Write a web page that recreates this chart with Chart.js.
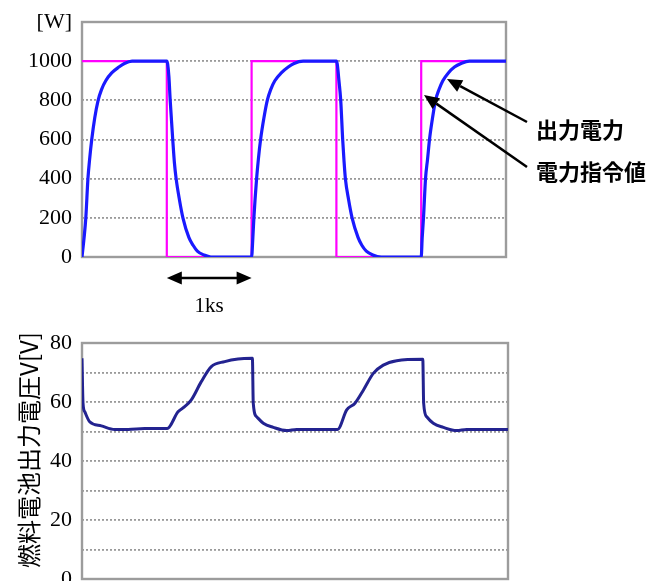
<!DOCTYPE html>
<html>
<head>
<meta charset="utf-8">
<script src="https://cdn.jsdelivr.net/npm/chart.js@4.4.1/dist/chart.umd.min.js"></script>
<style>
  html, body { margin: 0; padding: 0; background: #fff; overflow: hidden; }
  #power { position: absolute; left: 0; top: 0; }
  #volt { position: absolute; left: 0; top: 320px; }
</style>
</head>
<body>
<canvas id="power" width="668" height="320"></canvas>
<canvas id="volt" width="668" height="261"></canvas>
<script>
// time axis in seconds (1ks = 1000 s)

// power command (stepped)
const commandTime = [0, 1000, 2000, 3000, 4000, 5000];
const commandPower = [1000, 0, 1000, 0, 1000, 1000];

// measured output power [W]
const outputTime = [
  0, 25, 45, 70, 90, 115, 150, 190, 230, 280, 350, 435, 500, 590, 1000,
  1010, 1025, 1040, 1070, 1090, 1110, 1150, 1190, 1260, 1310, 1360, 1440, 1520, 2000,
  2015, 2027, 2059, 2080, 2106, 2145, 2185, 2225, 2274, 2350, 2432, 2500, 2608, 3000,
  3010, 3030, 3051, 3074, 3090, 3106, 3145, 3185, 3255, 3300, 3353, 3430, 3529, 4000,
  4012, 4027, 4051, 4075, 4098, 4130, 4169, 4210, 4255, 4320, 4392, 4470, 4569, 5000
];
const outputPower = [
  0, 100, 200, 400, 500, 600, 710, 800, 855, 900, 940, 970, 988, 1000, 1000,
  985, 920, 800, 600, 480, 400, 290, 200, 100, 60, 30, 10, 0, 0,
  100, 200, 400, 500, 600, 710, 800, 855, 900, 940, 970, 988, 1000, 1000,
  985, 900, 800, 600, 490, 400, 290, 200, 100, 60, 30, 10, 0, 0,
  100, 200, 400, 500, 600, 700, 800, 855, 900, 940, 970, 988, 1000, 1000
];

// fuel cell output voltage [V]
const voltTime = [
  0, 12, 32, 90, 227, 384, 540, 736, 1000, 1127, 1205, 1283, 1400, 1518, 1675, 1831, 2000,
  2010, 2050, 2128, 2245, 2403, 2520, 3000, 3107, 3204, 3302, 3419, 3536, 3694, 4000,
  4010, 4046, 4123, 4241, 4398, 4515, 5000
];
const voltValue = [
  74.8, 59.6, 56.7, 53.3, 51.9, 50.7, 50.7, 51, 51, 56.7, 58.4, 60.7, 66.9, 72, 73.7, 74.6, 74.8,
  59.6, 55, 52.8, 51.4, 50.3, 50.7, 50.7, 57.3, 59.6, 64, 69.7, 72.5, 74, 74.5,
  59.6, 55, 52.8, 51.4, 50.3, 50.7, 50.7
];

const powerUnit = '[W]';
const outputLabel = '出力電力';
const commandLabel = '電力指令値';
const spanLabel = '1ks';
const voltTitle = '燃料電池出力電圧V[V]';

function pairs(xs, ys) {
  return xs.map((x, i) => ({ x: x, y: ys[i] }));
}

const tickFont = { family: '"Liberation Serif", "Times New Roman", serif', size: 22 };
const gridColor = '#9a9a9a';

// gray frame round the plot area
const frame = {
  id: 'frame',
  beforeDatasetsDraw(chart) {
    const { ctx, chartArea: a } = chart;
    ctx.save();
    ctx.strokeStyle = '#9c9c9c';
    ctx.lineWidth = 2.4;
    ctx.strokeRect(a.left, a.top, a.right - a.left, a.bottom - a.top);
    ctx.restore();
  }
};

function arrowHead(ctx, fx, fy, tx, ty, len, half) {
  const a = Math.atan2(ty - fy, tx - fx);
  const bx = tx - len * Math.cos(a), by = ty - len * Math.sin(a);
  ctx.beginPath();
  ctx.moveTo(tx, ty);
  ctx.lineTo(bx + half * Math.sin(a), by - half * Math.cos(a));
  ctx.lineTo(bx - half * Math.sin(a), by + half * Math.cos(a));
  ctx.closePath();
  ctx.fill();
  return [bx, by];
}

function arrow(ctx, fx, fy, tx, ty) {
  const [bx, by] = arrowHead(ctx, fx, fy, tx, ty, 15, 6.5);
  ctx.beginPath();
  ctx.moveTo(fx, fy);
  ctx.lineTo(bx, by);
  ctx.stroke();
}

const powerNotes = {
  id: 'powerNotes',
  afterDraw(chart) {
    const { ctx, scales: { x, y } } = chart;
    ctx.save();
    ctx.fillStyle = '#000';
    ctx.strokeStyle = '#000';
    ctx.lineWidth = 2.5;

    // callouts
    arrow(ctx, 527, 122, x.getPixelForValue(4304), y.getPixelForValue(909));
    arrow(ctx, 527, 167, x.getPixelForValue(4033), y.getPixelForValue(827));
    ctx.font = 'bold 22px "Noto Sans CJK JP"';
    ctx.textAlign = 'left';
    ctx.textBaseline = 'middle';
    ctx.fillText(outputLabel, 536, 130);
    ctx.fillText(commandLabel, 536, 172);

    // 1ks span
    const x1 = x.getPixelForValue(1000), x2 = x.getPixelForValue(2000);
    const yy = 278;
    arrowHead(ctx, x2, yy, x1, yy, 15, 6.5);
    arrowHead(ctx, x1, yy, x2, yy, 15, 6.5);
    ctx.beginPath();
    ctx.moveTo(x1 + 12, yy);
    ctx.lineTo(x2 - 12, yy);
    ctx.stroke();
    ctx.font = '21px "Liberation Serif"';
    ctx.textAlign = 'center';
    ctx.fillText(spanLabel, (x1 + x2) / 2, 306);
    ctx.restore();
  }
};

const voltNotes = {
  id: 'voltNotes',
  afterDraw(chart) {
    const { ctx } = chart;
    ctx.save();
    ctx.translate(29, 130);
    ctx.rotate(-Math.PI / 2);
    ctx.font = '24px "Noto Sans CJK JP"';
    ctx.fillStyle = '#000';
    ctx.textAlign = 'center';
    ctx.textBaseline = 'middle';
    ctx.fillText(voltTitle, 0, 0);
    ctx.restore();
  }
};

function xAxis() {
  return {
    type: 'linear',
    min: 0,
    max: 5000,
    ticks: { display: false },
    grid: { display: false },
    border: { display: false },
    afterFit(s) { s.height = 0; s.paddingLeft = 0; s.paddingRight = 0; }
  };
}

function yAxis(max, step, labelFn) {
  return {
    min: 0,
    max: max,
    ticks: {
      stepSize: step,
      autoSkip: false,
      padding: 10,
      color: '#000',
      font: tickFont,
      callback: labelFn
    },
    grid: { color: gridColor, lineWidth: 1.8, drawTicks: false },
    border: { display: false, dash: [2, 2] },
    afterFit(s) { s.width = 82; s.paddingTop = 0; s.paddingBottom = 0; }
  };
}

Chart.defaults.font.family = '"Liberation Serif", serif';

new Chart(document.getElementById('power'), {
  type: 'line',
  data: {
    datasets: [
      {
        label: outputLabel,
        data: pairs(outputTime, outputPower),
        borderColor: '#1a1aff',
        borderWidth: 3.2,
        pointRadius: 0,
        cubicInterpolationMode: 'monotone',
        fill: false
      },
      {
        label: commandLabel,
        data: pairs(commandTime, commandPower),
        borderColor: '#ff00ff',
        borderWidth: 2.2,
        pointRadius: 0,
        stepped: true,
        fill: false
      }
    ]
  },
  options: {
    responsive: false,
    animation: false,
    layout: { padding: { left: 0, right: 162, top: 22, bottom: 63 } },
    plugins: { legend: { display: false }, tooltip: { enabled: false } },
    scales: {
      x: xAxis(),
      y: yAxis(1200, 200, v => (v === 1200 ? powerUnit : v))
    }
  },
  plugins: [frame, powerNotes]
});

new Chart(document.getElementById('volt'), {
  type: 'line',
  data: {
    datasets: [
      {
        label: voltTitle,
        data: pairs(voltTime, voltValue),
        borderColor: '#232390',
        borderWidth: 3,
        pointRadius: 0,
        cubicInterpolationMode: 'monotone',
        fill: false
      }
    ]
  },
  options: {
    responsive: false,
    animation: false,
    layout: { padding: { left: 0, right: 160, top: 23, bottom: 2 } },
    plugins: { legend: { display: false }, tooltip: { enabled: false } },
    scales: {
      x: xAxis(),
      y: yAxis(80, 10, v => (v % 20 === 0 ? v : ''))
    }
  },
  plugins: [frame, voltNotes]
});
</script>
</body>
</html>
